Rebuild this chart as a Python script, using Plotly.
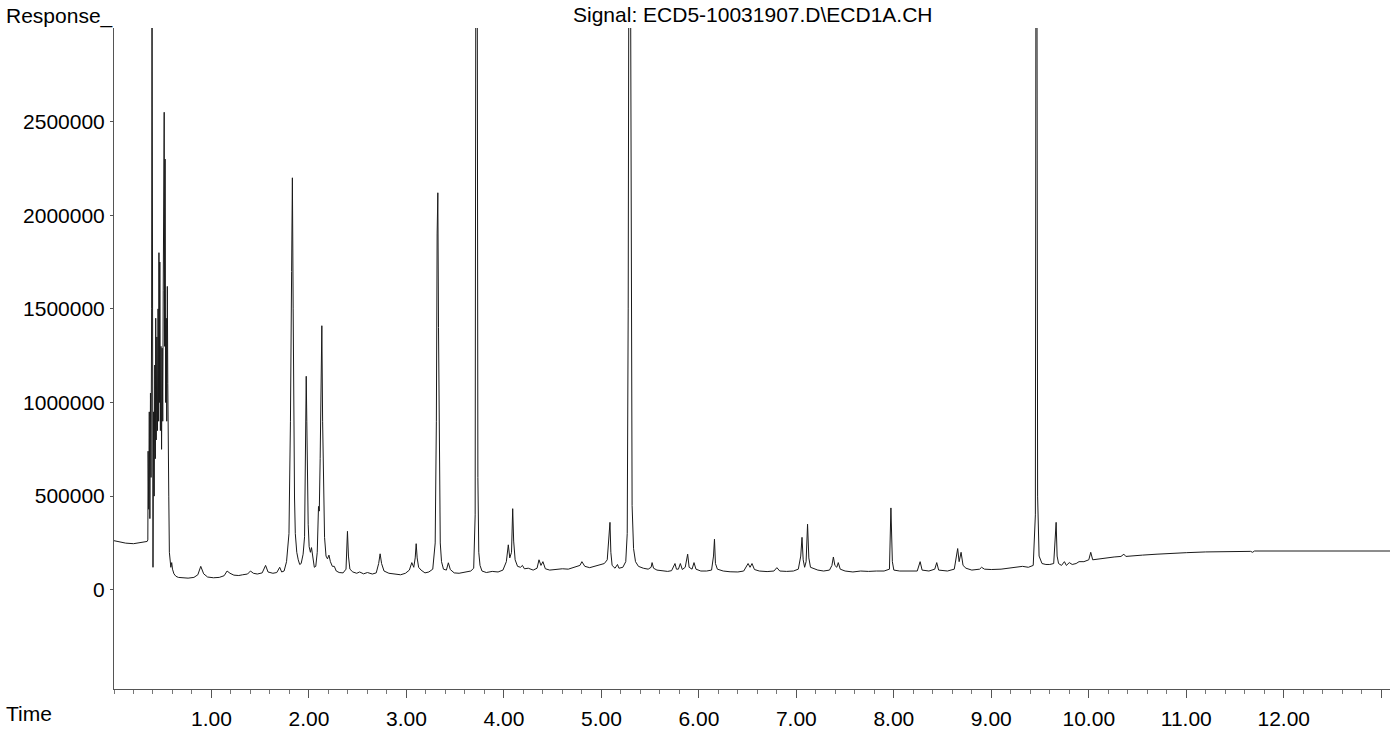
import plotly.graph_objects as go

# ---- Data (time in minutes, response in counts) ----
t_solvent = [0.00, 0.05, 0.12, 0.20, 0.28, 0.34, 0.347, 0.350, 0.356, 0.362, 0.368, 0.374, 0.380, 0.386,
             0.390, 0.394, 0.400, 0.406, 0.412, 0.418, 0.424, 0.428, 0.433, 0.440, 0.446, 0.452, 0.458,
             0.461, 0.466, 0.470, 0.476, 0.482, 0.488, 0.494, 0.500, 0.505, 0.510, 0.515, 0.519, 0.524,
             0.530, 0.536, 0.541, 0.547, 0.552, 0.556, 0.562, 0.568, 0.575, 0.583, 0.592, 0.600, 0.615,
             0.635, 0.660]
r_solvent = [262000, 256000, 249000, 246000, 252000, 258000, 266000, 740000, 430000, 950000, 380000,
             1050000, 600000, 1500000, 3400000, 1200000, 120000, 950000, 500000, 1200000, 700000, 1450000,
             800000, 1350000, 850000, 1500000, 900000, 1800000, 1000000, 1750000, 850000, 1300000, 750000,
             1290000, 900000, 1600000, 1900000, 2550000, 1300000, 2300000, 1000000, 1450000, 900000,
             1620000, 1100000, 560000, 500000, 200000, 140000, 120000, 145000, 110000, 85000, 72000, 66000]

t_early = [0.70, 0.76, 0.82, 0.86, 0.89, 0.92, 0.96, 1.02, 1.08, 1.13, 1.16, 1.19, 1.23, 1.28, 1.32, 1.37,
           1.40, 1.43, 1.47, 1.52, 1.555, 1.58, 1.63, 1.67, 1.70, 1.72, 1.745, 1.77, 1.795, 1.81, 1.822,
           1.83, 1.838, 1.845, 1.852, 1.86, 1.875, 1.89, 1.905, 1.92, 1.94, 1.955, 1.965, 1.972, 1.978,
           1.984, 1.992, 2.002, 2.015, 2.026, 2.04, 2.055, 2.07, 2.085, 2.098, 2.106, 2.115, 2.125, 2.132,
           2.14, 2.15, 2.16, 2.175, 2.19, 2.205, 2.22, 2.24, 2.26, 2.28, 2.31, 2.35, 2.38, 2.395, 2.405,
           2.42, 2.45, 2.49]
r_early = [64000, 62000, 66000, 80000, 125000, 85000, 68000, 64000, 66000, 75000, 100000, 88000, 78000,
           76000, 80000, 84000, 100000, 88000, 84000, 90000, 130000, 95000, 88000, 92000, 120000, 95000,
           100000, 150000, 300000, 900000, 1700000, 2200000, 1500000, 700000, 490000, 300000, 200000,
           160000, 135000, 140000, 190000, 283000, 700000, 1140000, 900000, 590000, 350000, 230000, 200000,
           225000, 170000, 120000, 125000, 200000, 445000, 420000, 700000, 1000000, 1410000, 900000,
           500000, 280000, 180000, 165000, 185000, 150000, 125000, 125000, 100000, 92000, 90000, 110000,
           312000, 180000, 110000, 95000, 88000]

t_mid = [2.52, 2.56, 2.60, 2.65, 2.69, 2.715, 2.73, 2.745, 2.77, 2.82, 2.88, 2.94, 2.99, 3.03, 3.055,
         3.075, 3.09, 3.10, 3.11, 3.125, 3.15, 3.19, 3.23, 3.27, 3.295, 3.307, 3.315, 3.322, 3.329, 3.337,
         3.347, 3.36, 3.38, 3.41, 3.43, 3.45, 3.49, 3.54, 3.60, 3.66, 3.69, 3.705, 3.712, 3.726, 3.733,
         3.742, 3.755, 3.775, 3.82, 3.88, 3.94, 3.99, 4.025, 4.045, 4.06, 4.078, 4.09, 4.10, 4.115, 4.14,
         4.17, 4.19, 4.21, 4.25, 4.30, 4.34, 4.36, 4.38, 4.40, 4.425, 4.47]
r_mid = [95000, 85000, 92000, 84000, 90000, 140000, 192000, 140000, 100000, 88000, 82000, 80000, 88000,
         105000, 145000, 120000, 170000, 246000, 170000, 120000, 105000, 90000, 95000, 110000, 250000,
         900000, 1900000, 2120000, 1400000, 600000, 250000, 150000, 110000, 105000, 144000, 108000, 90000,
         88000, 95000, 100000, 115000, 400000, 3500000, 3500000, 600000, 200000, 130000, 100000, 92000,
         98000, 95000, 105000, 150000, 240000, 170000, 200000, 433000, 260000, 160000, 125000, 120000,
         130000, 112000, 115000, 105000, 115000, 160000, 130000, 150000, 112000, 105000]

t_late = [4.53, 4.60, 4.66, 4.72, 4.78, 4.80, 4.83, 4.88, 4.93, 4.98, 5.03, 5.06, 5.075, 5.088, 5.097,
          5.11, 5.14, 5.165, 5.18, 5.22, 5.25, 5.265, 5.275, 5.282, 5.298, 5.305, 5.315, 5.33, 5.35, 5.38,
          5.43, 5.48, 5.51, 5.52, 5.535, 5.57, 5.62, 5.68, 5.72, 5.755, 5.77, 5.79, 5.81, 5.83, 5.86,
          5.885, 5.90, 5.93, 5.95, 5.97, 6.02, 6.08, 6.13, 6.15, 6.16, 6.17, 6.19]
r_late = [108000, 112000, 110000, 120000, 130000, 150000, 125000, 118000, 125000, 135000, 140000, 160000,
          250000, 360000, 200000, 130000, 115000, 135000, 115000, 120000, 150000, 300000, 1500000,
          3500000, 3500000, 1200000, 450000, 220000, 150000, 125000, 115000, 110000, 120000, 145000,
          115000, 105000, 100000, 98000, 102000, 140000, 110000, 110000, 140000, 108000, 120000, 190000,
          120000, 110000, 145000, 110000, 100000, 100000, 105000, 180000, 270000, 140000, 110000]

t_tail = [6.25, 6.32, 6.40, 6.46, 6.505, 6.525, 6.545, 6.57, 6.62, 6.70, 6.77, 6.80, 6.83, 6.90, 6.97,
          7.02, 7.045, 7.058, 7.07, 7.085, 7.10, 7.115, 7.128, 7.145, 7.17, 7.22, 7.28, 7.34, 7.365, 7.38,
          7.395, 7.415, 7.43, 7.45, 7.50, 7.58, 7.66, 7.74, 7.82, 7.90, 7.955, 7.97, 7.985, 8.00, 8.06,
          8.12, 8.18]
r_tail = [100000, 96000, 95000, 100000, 140000, 120000, 140000, 108000, 100000, 97000, 100000, 118000,
          100000, 98000, 100000, 110000, 180000, 280000, 160000, 120000, 150000, 350000, 170000, 120000,
          115000, 105000, 100000, 105000, 130000, 175000, 130000, 120000, 145000, 110000, 100000, 95000,
          100000, 98000, 100000, 100000, 110000, 437000, 150000, 105000, 100000, 100000, 100000]

t_end = [8.24, 8.27, 8.29, 8.36, 8.42, 8.44, 8.46, 8.55, 8.62, 8.655, 8.67, 8.69, 8.71, 8.74, 8.80, 8.88,
         8.90, 8.93, 9.00, 9.10, 9.20, 9.28, 9.32, 9.38, 9.43, 9.452, 9.458, 9.468, 9.475, 9.49, 9.52,
         9.56, 9.60, 9.64, 9.655, 9.665, 9.675, 9.69, 9.72, 9.75, 9.77, 9.80, 9.83, 9.87, 9.90, 9.95,
         10.00, 10.02, 10.04, 10.10, 10.18, 10.26, 10.33, 10.36, 10.38, 10.45, 10.55, 10.70, 10.85,
         11.00, 11.20, 11.40, 11.60, 11.66, 11.68, 11.70, 11.90, 12.20, 12.60, 13.09]
r_end = [100000, 150000, 105000, 100000, 110000, 145000, 105000, 100000, 110000, 220000, 150000, 200000,
         130000, 115000, 105000, 110000, 120000, 110000, 108000, 110000, 115000, 120000, 125000, 120000,
         130000, 400000, 3500000, 3500000, 500000, 180000, 140000, 135000, 135000, 140000, 250000,
         360000, 180000, 140000, 130000, 150000, 130000, 145000, 135000, 140000, 150000, 150000, 160000,
         200000, 160000, 165000, 170000, 175000, 178000, 190000, 178000, 182000, 185000, 190000, 195000,
         198000, 202000, 205000, 207000, 205000, 200000, 207000, 207000, 207000, 207000, 207000]

x_tick_vals = [1, 2, 3, 4, 5, 6, 7, 8, 9, 10, 11, 12, 13]
x_tick_text = ["1.00", "2.00", "3.00", "4.00", "5.00", "6.00", "7.00", "8.00", "9.00", "10.00",
               "11.00", "12.00", ""]
y_tick_vals = [0, 500000, 1000000, 1500000, 2000000, 2500000]
y_tick_text = ["0", "500000", "1000000", "1500000", "2000000", "2500000"]

title_text = "Signal: ECD5-10031907.D\\ECD1A.CH"

time_all = t_solvent + t_early + t_mid + t_late + t_tail + t_end
resp_all = r_solvent + r_early + r_mid + r_late + r_tail + r_end

FONT = "Liberation Sans, Arial, sans-serif"

fig = go.Figure()
fig.add_trace(go.Scatter(x=time_all, y=resp_all, mode="lines",
                         line=dict(color="#1a1a1a", width=1), hoverinfo="x+y", showlegend=False))

fig.update_layout(
    width=1396, height=730,
    margin=dict(l=114, r=6, t=28, b=41),
    paper_bgcolor="white", plot_bgcolor="white",
    font=dict(family=FONT, size=21, color="black"),
    xaxis=dict(range=[0, 13.09], showgrid=False, zeroline=False, showline=True, automargin=False,
               linecolor="#555555", linewidth=1, ticks="outside", ticklen=8, tickcolor="#555555",
               tickvals=x_tick_vals, ticktext=x_tick_text, ticklabelstandoff=3,
               minor=dict(dtick=0.2, tick0=0, ticks="outside", ticklen=4, tickcolor="#777777"),
               tickfont=dict(family=FONT, size=21, color="black")),
    yaxis=dict(range=[-530000, 3000000], showgrid=False, zeroline=False, showline=True, automargin=False,
               linecolor="#555555", linewidth=1, ticks="outside", ticklen=3, tickcolor="#555555",
               tickvals=y_tick_vals, ticktext=y_tick_text, ticklabelstandoff=1,
               tickfont=dict(family=FONT, size=21, color="black")),
    annotations=[
        dict(text="Response_", xref="paper", yref="paper", x=-0.0862, y=1.018,
             xanchor="left", yanchor="middle", showarrow=False, font=dict(family=FONT, size=21)),
        dict(text=title_text, xref="paper", yref="paper", x=0.5008, y=1.0197,
             xanchor="center", yanchor="middle", showarrow=False, font=dict(family=FONT, size=21)),
        dict(text="Time", xref="paper", yref="paper", x=-0.0862, y=-0.0378,
             xanchor="left", yanchor="middle", showarrow=False, font=dict(family=FONT, size=21)),
    ],
)

fig.write_html("out.html", config={"displayModeBar": False},
               post_script="document.body.style.margin='0';document.body.style.overflow='hidden';")
